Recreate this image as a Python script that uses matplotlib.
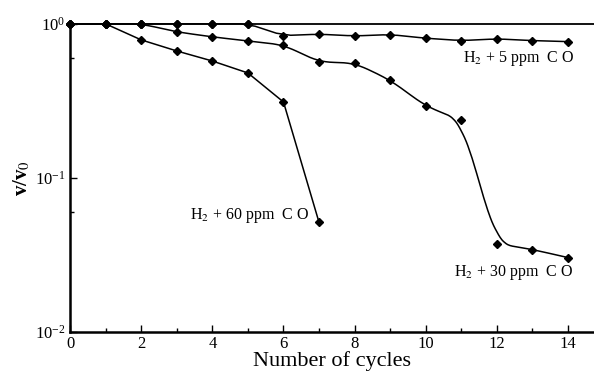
import numpy as np
import matplotlib
matplotlib.use("Agg")
import matplotlib.pyplot as plt
from matplotlib.ticker import FixedLocator, NullFormatter

plt.rcParams['font.family'] = ['Liberation Serif', 'DejaVu Serif']
plt.rcParams['mathtext.fontset'] = 'stix'

# data (v/v0 per cycle)
cyc_pure = [0, 1, 2, 3, 4, 5]
v_pure = [1.0, 1.0, 1.0, 1.0, 1.0, 1.0]

cyc_5 = [0, 1, 2, 3, 4, 5, 6, 7, 8, 9, 10, 11, 12, 13, 14]
v_5 = [1.0, 1.0, 1.0, 1.0, 1.0, 1.0, 0.84, 0.857, 0.835, 0.852, 0.807, 0.779, 0.799, 0.779, 0.767]

cyc_30 = [0, 1, 2, 3, 4, 5, 6, 7, 8, 9, 10, 11, 12, 13, 14]
v_30 = [1.0, 1.0, 1.0, 0.887, 0.823, 0.775, 0.73, 0.566, 0.557, 0.432, 0.292, 0.237, 0.0375, 0.0343, 0.0304]

cyc_60 = [0, 1, 2, 3, 4, 5, 6, 7]
v_60 = [1.0, 1.0, 0.787, 0.667, 0.574, 0.48, 0.311, 0.0514]

labels = ["H$_2$ + 5 ppm  C O", "H$_2$ + 30 ppm  C O", "H$_2$ + 60 ppm  C O"]


def chaikin(x, y, n_iter=0, q=0.25):
    # corner cutting on the polyline (log space), ends kept
    px = np.asarray(x, float)
    py = np.log10(np.asarray(y, float))
    for _ in range(n_iter):
        nx, ny = [px[0]], [py[0]]
        for i in range(len(px) - 1):
            nx += [(1 - q) * px[i] + q * px[i + 1], q * px[i] + (1 - q) * px[i + 1]]
            ny += [(1 - q) * py[i] + q * py[i + 1], q * py[i] + (1 - q) * py[i + 1]]
        nx.append(px[-1])
        ny.append(py[-1])
        px, py = np.array(nx), np.array(ny)
    return px, 10 ** py


fig = plt.figure(figsize=(5.94, 3.73), dpi=100)
ax = fig.add_axes([0.118, 0.11, 0.882, 0.826])

for cx, vv, it in [(cyc_5, v_5, 1), (cyc_30, v_30, 4), (cyc_60, v_60, 0)]:
    sx, sy = chaikin(cx, vv, it, 0.2)
    ax.plot(sx, sy, color='black', lw=1.1, clip_on=False)
    ax.plot(cx, vv, 'D', color='black', ms=4.5, clip_on=False, zorder=5)
ax.plot(cyc_pure, v_pure, 'D', color='black', ms=4.5, clip_on=False, zorder=5)

ax.set_yscale('log')
ax.set_ylim(0.01, 1.0)
ax.set_xlim(0, 14.73)

ax.spines['right'].set_visible(False)
ax.spines['left'].set_linewidth(1.8)
ax.spines['bottom'].set_linewidth(1.8)
ax.spines['top'].set_linewidth(1.3)

ax.xaxis.set_major_locator(FixedLocator([0, 2, 4, 6, 8, 10, 12, 14]))
ax.xaxis.set_minor_locator(FixedLocator([1, 3, 5, 7, 9, 11, 13]))
ax.yaxis.set_major_locator(FixedLocator([0.01, 0.1, 1.0]))
ax.yaxis.set_minor_locator(FixedLocator([0.06, 0.6]))
ax.yaxis.set_minor_formatter(NullFormatter())
ax.tick_params(which='both', direction='in', top=False, right=False, labelsize=12, width=1)
ax.tick_params(which='major', length=5)
ax.tick_params(which='minor', length=3)
ax.tick_params(axis='x', pad=3)

ax.set_xlabel("Number of cycles", fontsize=16, labelpad=-1)
ax.set_ylabel("v/v$_0$", fontsize=15, fontweight='bold', labelpad=2)

ax.text(11.04, 0.592, labels[0], fontsize=11.5, va='center', ha='left')
ax.text(10.8, 0.0243, labels[1], fontsize=11.5, va='center', ha='left')
ax.text(3.37, 0.057, labels[2], fontsize=11.5, va='center', ha='left')

fig.savefig("out.png", dpi=100)
